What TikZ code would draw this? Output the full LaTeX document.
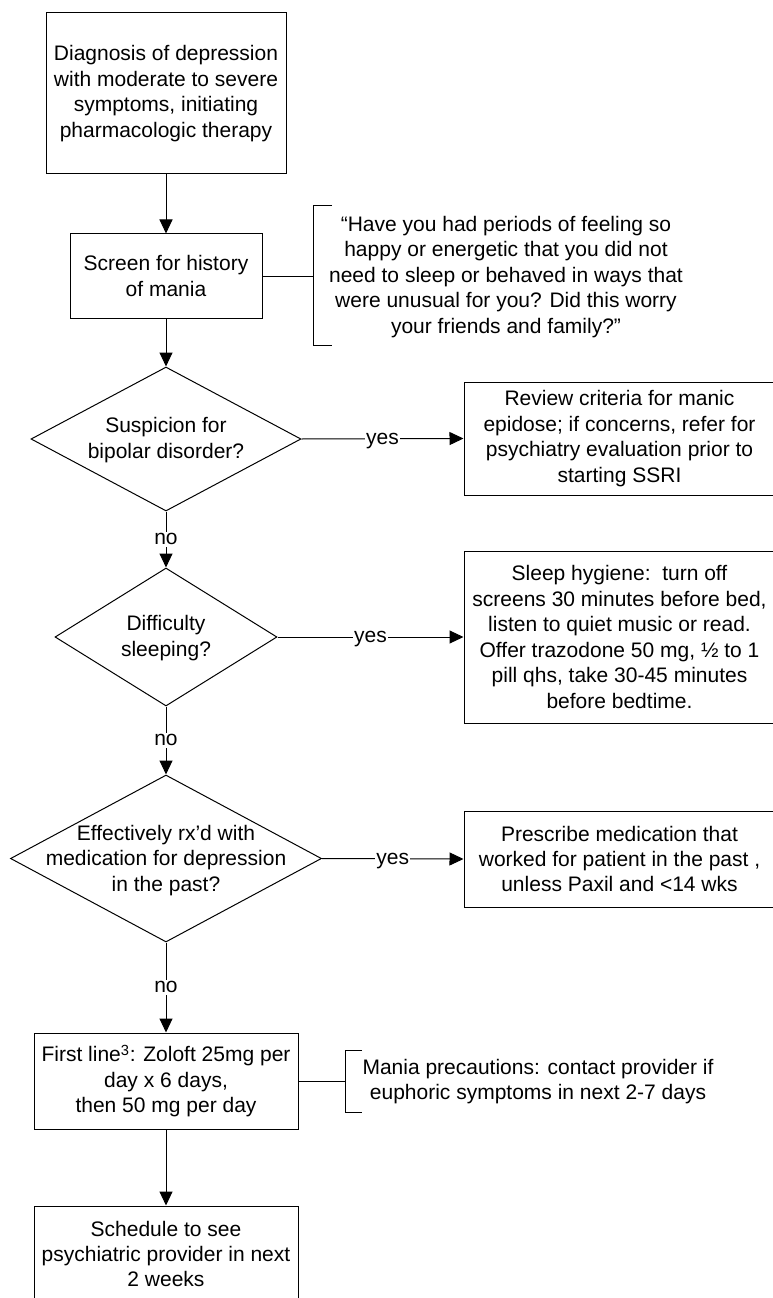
\documentclass[tikz,border=0pt]{standalone}
\usepackage{fontspec}
\setmainfont{Liberation Sans}
\usetikzlibrary{arrows.meta,shapes.geometric}
\tikzset{
  base/.style={font=\fontsize{15.75pt}{19.1pt}\selectfont, align=center, inner sep=0pt},
  box/.style={base, draw, line width=0.75pt},
  dia/.style={diamond, draw, line width=0.75pt, inner sep=0pt},
  txt/.style={base},
  conn/.style={line width=0.75pt},
  arr/.style={conn, -{Triangle[length=10.5pt,width=9.75pt]}},
  lab/.style={font=\fontsize{15.75pt}{19.1pt}\selectfont, fill=white, text height=8.2pt, text depth=0pt, inner xsep=0.8pt, inner ysep=1.5pt},
  brk/.style={line width=0.75pt}
}
\begin{document}
\begin{tikzpicture}[x=0.75pt,y=-0.75pt]
\useasboundingbox (0,0) rectangle (773,1298);
% boxes
\node[box, minimum width=240*0.75pt, minimum height=161*0.75pt] (b1) at (166,93.5)
  {Diagnosis of depression\\with moderate to severe\\symptoms, initiating\\pharmacologic therapy};
\node[box, minimum width=192*0.75pt, minimum height=84*0.75pt] (b2) at (166,276)
  {Screen for history\\of mania};
\node[dia, minimum width=270*0.75pt, minimum height=144*0.75pt] (d1) at (166,439) {};
\node[txt] (d1t) at (166,440) {Suspicion for\\bipolar disorder?};
\node[dia, minimum width=222*0.75pt, minimum height=138*0.75pt] (d2) at (166,637) {};
\node[txt] (d2t) at (166,638) {Difficulty\\sleeping?};
\node[dia, minimum width=311*0.75pt, minimum height=167*0.75pt] (d3) at (166,858.5) {};
\node[txt] (d3t) at (166,860.5) {Effectively rx’d with\\medication for depression\\in the past?};
\node[box, minimum width=264*0.75pt, minimum height=96*0.75pt] (b6) at (166,1081)
  {First line\textsuperscript{3}: Zoloft 25mg per\\day x 6 days,\\then 50 mg per day};
\node[box, minimum width=264*0.75pt, minimum height=96*0.75pt] (b7) at (166,1254)
  {Schedule to see\\psychiatric provider in next\\2 weeks};
\node[box, minimum width=311*0.75pt, minimum height=113*0.75pt] (b3) at (619.5,438.5)
  {Review criteria for manic\\epidose; if concerns, refer for\\psychiatry evaluation prior to\\starting SSRI};
\node[box, minimum width=311*0.75pt, minimum height=172*0.75pt] (b4) at (619.5,637)
  {Sleep hygiene:\ \ turn off\\screens 30 minutes before bed,\\listen to quiet music or read.\\Offer trazodone 50 mg, ½ to 1\\pill qhs, take 30-45 minutes\\before bedtime.};
\node[box, minimum width=311*0.75pt, minimum height=96*0.75pt] (b5) at (619.5,859)
  {Prescribe medication that\\worked for patient in the past ,\\unless Paxil and <14 wks};
% bracket notes
\node[txt] (q1) at (506,277)
  {“Have you had periods of feeling so\\happy or energetic that you did not\\need to sleep or behaved in ways that\\were unusual for you? Did this worry\\your friends and family?”};
\coordinate (qa1) at (313,276);
\draw[brk] (332,206) -- (313,206) -- (313,345) -- (332,345);
\node[txt] (q2) at (538,1081.5)
  {Mania precautions: contact provider if\\euphoric symptoms in next 2-7 days};
\coordinate (qa2) at (345,1081);
\draw[brk] (362,1050) -- (345,1050) -- (345,1112) -- (362,1112);
% connectors
\draw[arr] (b1.south) -- (b2.north);
\draw[arr] (b2.south) -- (d1.north);
\draw[conn] (b2.east) -- (qa1);
\draw[conn] (b6.east) -- (qa2);
\draw[arr] (d1.east) -- node[lab] (y1) {yes} (b3.west);
\draw[arr] (d2.east) -- node[lab] (y2) {yes} (b4.west);
\draw[arr] (d3.east) -- node[lab] (y3) {yes} (b5.west);
\draw[arr] (d1.south) -- node[lab] (n1) {no} (d2.north);
\draw[arr] (d2.south) -- node[lab] (n2) {no} (d3.north);
\draw[arr] (d3.south) -- node[lab] (n3) {no} (b6.north);
\draw[arr] (b6.south) -- (b7.north);
\end{tikzpicture}
\end{document}
